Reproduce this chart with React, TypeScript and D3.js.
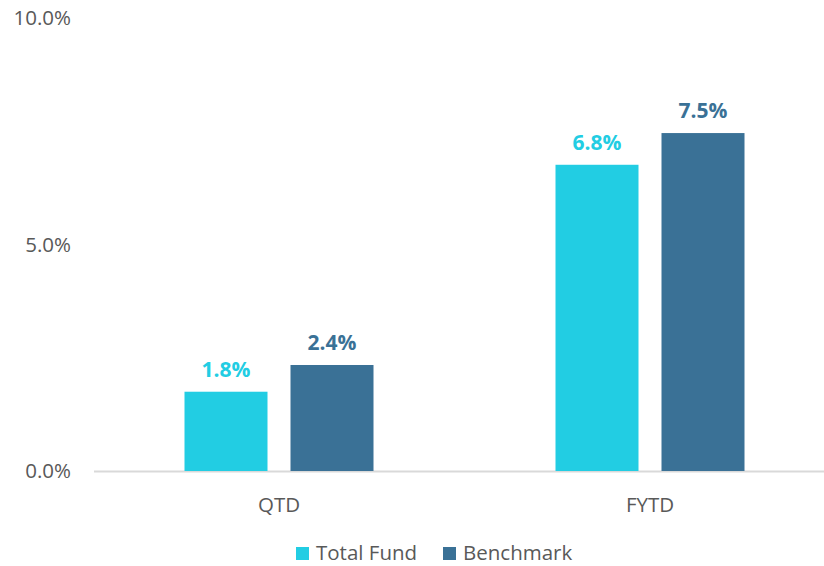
import React from "react";
import * as d3 from "d3";

const categories = ["QTD", "FYTD"];
const seriesNames = ["Total Fund", "Benchmark"];
const totalFund = [1.75, 6.76];
const benchmark = [2.34, 7.46];
const labelsTotalFund = ["1.8%", "6.8%"];
const labelsBenchmark = ["2.4%", "7.5%"];
const yTicks = [0, 5, 10];
const colors = ["#22CDE3", "#3A7196"];

const W = 824;
const H = 566;
const FONT = "'Open Sans', sans-serif";

export default function App() {
  const x = d3.scaleBand<string>().domain(categories).range([93.5, 835.5]).paddingInner(0).paddingOuter(0);
  const y = d3.scaleLinear().domain([0, 10]).range([471, 18]);
  const barW = 83;
  const gap = 23;
  const series = [
    { name: seriesNames[0], values: totalFund, labels: labelsTotalFund, color: colors[0] },
    { name: seriesNames[1], values: benchmark, labels: labelsBenchmark, color: colors[1] },
  ];
  const groupW = barW * 2 + gap;
  return (
    <svg width={W} height={H} style={{ position: "absolute", left: 0, top: 0, fontFamily: FONT }}>
      <rect width={W} height={H} fill="#fff" />
      {yTicks.map((t) => (
        <text key={t} x={71} y={y(t)} dy="0.35em" textAnchor="end" fontSize={20.5} fill="#595959">
          {d3.format(".1f")(t) + "%"}
        </text>
      ))}
      <line x1={94} x2={W} y1={y(0) + 0.5} y2={y(0) + 0.5} stroke="#D9D9D9" strokeWidth={2} />
      {categories.map((c, i) => {
        const cx = (x(c) as number) + x.bandwidth() / 2;
        return (
          <g key={c}>
            {series.map((s, j) => {
              const bx = cx - groupW / 2 + j * (barW + gap);
              const by = y(s.values[i]);
              return (
                <g key={s.name}>
                  <rect x={bx} y={by} width={barW} height={y(0) - by} fill={s.color} />
                  <text x={bx + barW / 2} y={by - 15} textAnchor="middle" fontSize={21} fontWeight="bold" fill={s.color}>
                    {s.labels[i]}
                  </text>
                </g>
              );
            })}
            <text x={cx} y={505} dy="0.35em" textAnchor="middle" fontSize={20.5} fill="#595959">
              {c}
            </text>
          </g>
        );
      })}
      {series.map((s, j) => {
        const lx = [296, 443][j];
        return (
          <g key={s.name}>
            <rect x={lx} y={547} width={13} height={13} fill={s.color} />
            <text x={lx + 20} y={560} fontSize={20.5} fill="#595959">
              {s.name}
            </text>
          </g>
        );
      })}
    </svg>
  );
}
